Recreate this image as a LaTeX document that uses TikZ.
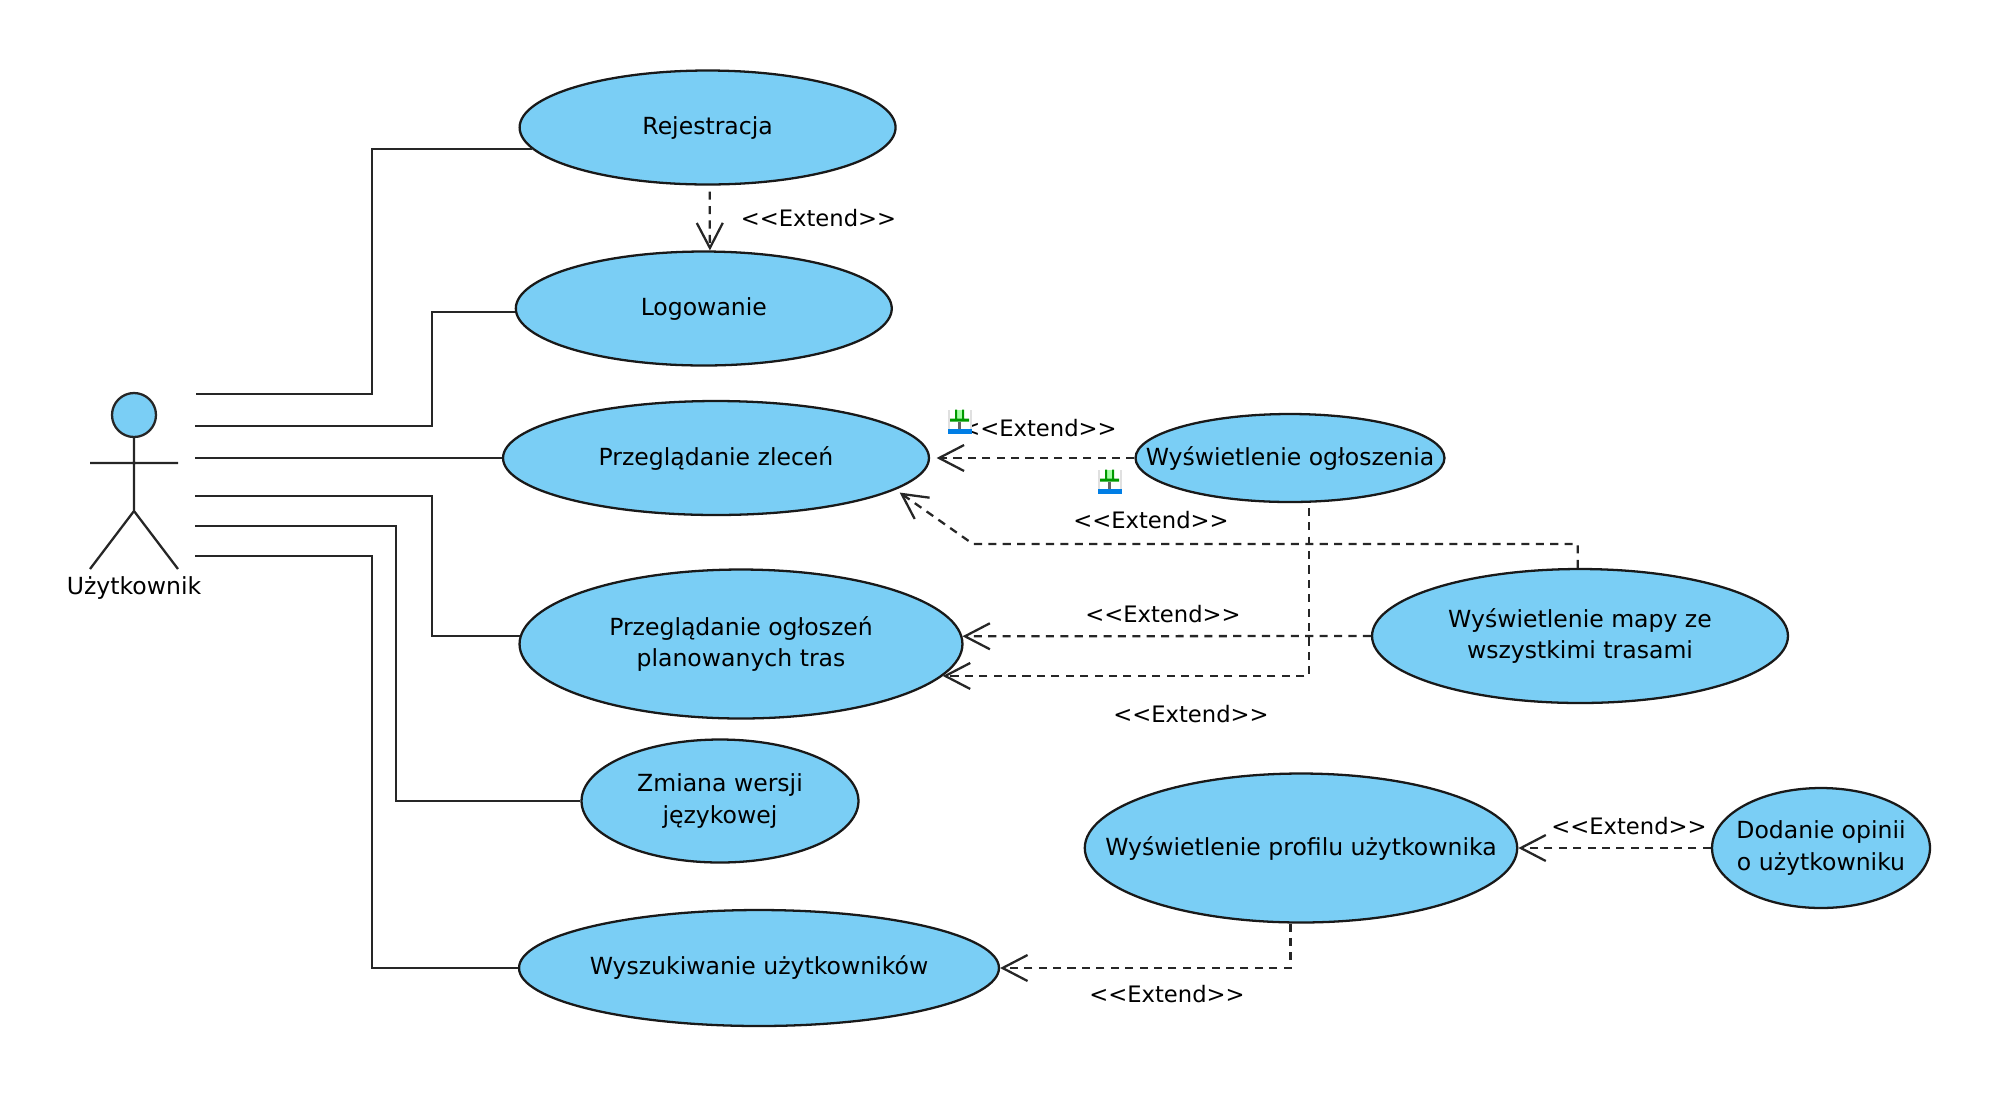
\documentclass[tikz,border=0pt]{standalone}
\usepackage{fontspec}
\setmainfont{DejaVu Sans}
\usetikzlibrary{shapes.geometric,arrows.meta}
\definecolor{ucblue}{RGB}{122,206,245}
\tikzset{
 usecase/.style={ellipse,draw=black!90,line width=1.3pt,fill=ucblue,inner xsep=-3cm,inner ysep=-1cm,align=center},
 assoc/.style={draw=black!85,line width=1.3pt},
 extend/.style={black!85,line width=1.3pt,dash pattern=on 4.6pt off 3.6pt,->},
 extlabel/.style={inner sep=0pt,font=\fontsize{12.9}{16}\selectfont},
 pics/pinicon/.style={code={
  \fill[black!12] (-12,-12) rectangle (12,12);
  \fill[white] (-10,-12) rectangle (10,8);
  \fill[green!35!white] (-5,-12) rectangle (4,-2);
  \fill[green!60!black] (-10,-3) rectangle (9,0) (-5,-12) rectangle (-3,-2) (2,-12) rectangle (4,-2);
  \fill[black!60] (-2,0) rectangle (0.5,7);
  \fill[blue!45!cyan!90!black] (-12,7) rectangle (12,12);
 }}
}
\begin{document}
\begin{tikzpicture}[x=0.02cm,y=-0.02cm,>={Straight Barb[length=0.5cm,width=0.52cm]},font=\fontsize{13.4}{18}\selectfont]
 \useasboundingbox (0,0) rectangle (1998,1110);

 % actor
 \node[circle,draw=black!85,line width=1.3pt,fill=ucblue,minimum size=0.88cm,inner sep=0pt] (a_head) at (134,415) {};
 \node (a_name) at (134,588) {Użytkownik};
 \coordinate (a_arml) at (90,463);
 \coordinate (a_armr) at (178,463);
 \coordinate (a_hip) at (134,511);
 \coordinate (a_legl) at (90,569);
 \coordinate (a_legr) at (178,569);
 \draw[assoc] (a_head) -- (a_hip) -- (a_legl) (a_hip) -- (a_legr) (a_arml) -- (a_armr);

 % use cases
 \node[usecase,minimum width=7.52cm,minimum height=2.28cm] (u_rej) at (707.6,127.5) {Rejestracja};
 \node[usecase,minimum width=7.52cm,minimum height=2.28cm] (u_log) at (703.8,308.5) {Logowanie};
 \node[usecase,minimum width=8.52cm,minimum height=2.28cm] (u_zle) at (716,458) {Przeglądanie zleceń};
 \node[usecase,minimum width=6.18cm,minimum height=1.76cm] (u_ogl) at (1290,458) {Wyświetlenie ogłoszenia};
 \node[usecase,minimum width=8.32cm,minimum height=2.68cm] (u_map) at (1580,636) {Wyświetlenie mapy ze\\wszystkimi trasami};
 \node[usecase,minimum width=8.86cm,minimum height=2.98cm] (u_tra) at (741,644) {Przeglądanie ogłoszeń\\planowanych tras};
 \node[usecase,minimum width=5.54cm,minimum height=2.46cm] (u_jez) at (720,801) {Zmiana wersji\\językowej};
 \node[usecase,minimum width=9.6cm,minimum height=2.32cm] (u_szu) at (759,968) {Wyszukiwanie użytkowników};
 \node[usecase,minimum width=8.65cm,minimum height=2.98cm] (u_pro) at (1301,848) {Wyświetlenie profilu użytkownika};
 \node[usecase,minimum width=4.36cm,minimum height=2.4cm] (u_opi) at (1821,848) {Dodanie opinii\\o użytkowniku};

 % associations
 \coordinate (a_1) at (196,394);
 \coordinate (a_2) at (195,426);
 \coordinate (a_3) at (195,458);
 \coordinate (a_4) at (195,496);
 \coordinate (a_5) at (195,526);
 \coordinate (a_6) at (195,556);
 \draw[assoc] (a_1) -- (372,394) |- (u_rej.187.9);
 \draw[assoc] (a_2) -- (432,426) |- (u_log.181.2);
 \draw[assoc] (a_3) -- (u_zle.west);
 \draw[assoc] (a_4) -- (432,496) |- (u_tra.178.5);
 \draw[assoc] (a_5) -- (396,526) |- (u_jez.west);
 \draw[assoc] (a_6) -- (372,556) |- (u_szu.west);

 % extends
 \path[extend]
 (u_rej.-88) edge[shorten <=0.12cm] (u_log.84)
 (u_ogl.west) edge[shorten >=0.13cm] (u_zle.east)
 (u_map.west) edge (u_tra.2.06)
 (u_opi.west) edge (u_pro.east);
 \draw[extend,shorten >=0.1cm] (u_map.92.5) |- (973,544) -- (u_zle.-10);
 \draw[extend,shorten <=0.1cm] (u_ogl.-67.8) |- (u_tra.-9.05);
 \draw[extend] (u_pro.-98) |- (u_szu.east);

 % labels
 \node[extlabel] (l_rej) at (818.5,218) {<{}<Extend>{}>};
 \node[extlabel] (l_zle) at (1039,428) {<{}<Extend>{}>};
 \node[extlabel] (l_map) at (1151,520) {<{}<Extend>{}>};
 \node[extlabel] (l_tra) at (1163,614.5) {<{}<Extend>{}>};
 \node[extlabel] (l_ogl) at (1191,714) {<{}<Extend>{}>};
 \node[extlabel] (l_pro) at (1629,826) {<{}<Extend>{}>};
 \node[extlabel] (l_szu) at (1167,994.5) {<{}<Extend>{}>};

 % pins
 \pic at (960,421.5) {pinicon};
 \pic at (1110,481.5) {pinicon};
\end{tikzpicture}
\end{document}
